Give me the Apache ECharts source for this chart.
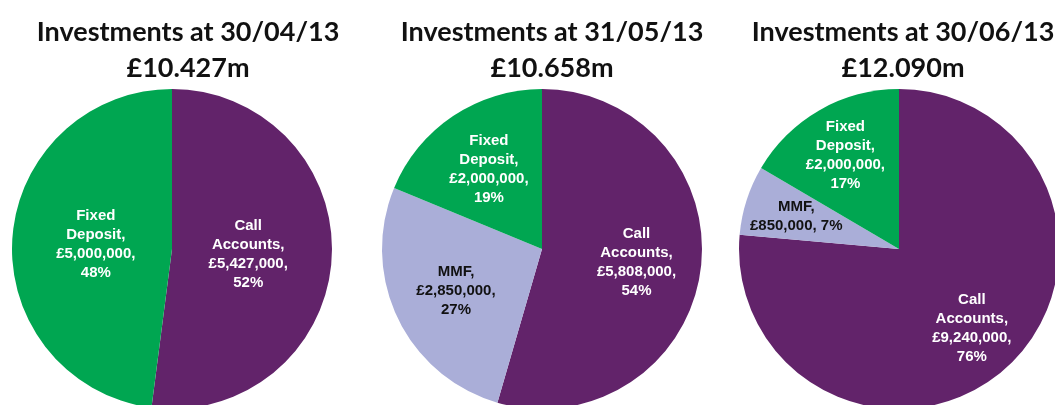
<!DOCTYPE html>
<html>
<head>
    <meta charset="utf-8">
    <script type="text/javascript" src="https://cdn.jsdelivr.net/npm/echarts@6/dist/echarts.min.js"></script>
    <title></title>
    <style>
        html, body { margin: 0; padding: 0; background: #fff; }
        #main { width: 1055px; height: 405px; }
    </style>
</head>
<body>
<div id="main"></div>
</body>
</html>

<script type="text/javascript">
    // data
    var dates = ['30/04/13', '31/05/13', '30/06/13'];
    var totals = ['£10.427m', '£10.658m', '£12.090m'];
    var categories = ['Call\nAccounts', 'MMF', 'Fixed\nDeposit'];
    var callAccounts = [5427000, 5808000, 9240000];
    var mmf = [0, 2850000, 850000];
    var fixedDeposit = [5000000, 2000000, 2000000];

    var colors = ['#62236A', '#AAAED8', '#00A651'];
    var labelColors = ['#fff', '#111', '#fff'];
    var centersX = [172, 542, 899];
    var titleX = [183, 547, 898];
    var centerY = 249;
    // how far the labels sit out from the default half radius, per pie
    var labelPush = [0.92, 1.15, 1.3];

    function money(v) {
        return '£' + String(v).replace(/\B(?=(\d{3})+(?!\d))/g, ',');
    }

    var myChart = echarts.init(document.getElementById('main'));

    var titles = [];
    var series = [];
    for (var i = 0; i < dates.length; i++) {
        titles.push({
            text: 'Investments at ' + dates[i] + '\n' + totals[i],
            left: titleX[i],
            top: 9,
            textAlign: 'center',
            textStyle: {
                fontFamily: 'Lato',
                fontSize: 27,
                fontWeight: 'bold',
                lineHeight: 36,
                color: '#111'
            }
        });

        var vals = [callAccounts[i], mmf[i], fixedDeposit[i]];
        var data = [];
        for (var k = 0; k < vals.length; k++) {
            if (!vals[k]) continue;  // no MMF in April
            data.push({
                name: categories[k],
                value: vals[k],
                itemStyle: {color: colors[k]},
                label: {color: labelColors[k]}
            });
        }

        series.push({
            type: 'pie',
            center: [centersX[i], centerY],
            radius: 160,
            startAngle: 90,
            clockwise: true,
            silent: true,
            avoidLabelOverlap: false,
            label: {
                show: true,
                position: 'inside',
                fontFamily: 'Liberation Sans',
                fontWeight: 'bold',
                fontSize: 15,
                lineHeight: 19,
                align: 'center',
                formatter: function (p) {
                    var pct = Math.round(p.percent) + '%';
                    var name = p.name + ',';
                    // narrow slice: value and percent share one line
                    if (p.percent < 10) {
                        return name + '\n' + money(p.value) + ', ' + pct;
                    }
                    return name + '\n' + money(p.value) + ',\n' + pct;
                }
            },
            labelLayout: (function (idx) {
                return function (params) {
                    var r = params.labelRect;
                    var cx = r.x + r.width / 2 - centersX[idx];
                    var cy = r.y + r.height / 2 - centerY;
                    return {
                        dx: cx * (labelPush[idx] - 1),
                        dy: cy * (labelPush[idx] - 1)
                    };
                };
            })(i),
            labelLine: {show: false},
            data: data
        });
    }

    var option = {
        animation: false,
        title: titles,
        series: series
    };
    myChart.setOption(option);
</script>
